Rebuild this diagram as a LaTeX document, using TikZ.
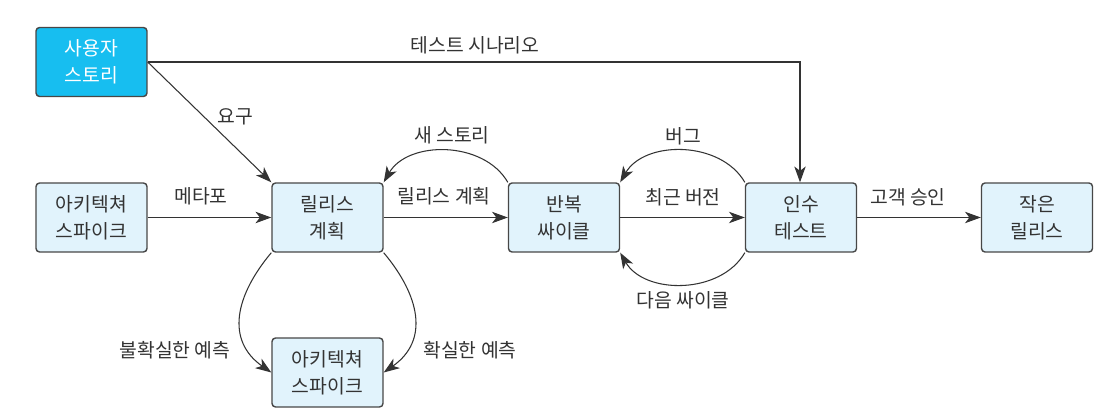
\documentclass[tikz,border=0pt]{standalone}
\usepackage{fontspec}
\setmainfont{Noto Sans CJK KR}
\usetikzlibrary{arrows.meta}
\definecolor{boxfill}{HTML}{E1F3FC}
\definecolor{storyfill}{HTML}{17BEF0}
\definecolor{linegray}{HTML}{333333}
\begin{document}
\begin{tikzpicture}[x=0.02cm, y=-0.02cm,
    font=\fontsize{11}{15.5}\selectfont,
    box/.style={draw=linegray!90, line width=0.8pt, fill=boxfill, rounded corners=2pt, minimum width=2.22cm, minimum height=1.38cm, align=center, inner sep=0pt, text=black!80},
    flow/.style={draw=linegray, line width=0.6pt, -{Stealth[length=9pt,width=6.5pt,inset=2.5pt]}},
    lbl/.style={inner sep=1pt, text=black!80}]
    \useasboundingbox (0,0) rectangle (1118,418);
    % boxes
    \node[box, fill=storyfill, text=white] (story) at (91.5,62) {사용자\\스토리};
    \node[box] (spike) at (91.5,217.5) {아키텍쳐\\스파이크};
    \node[box] (plan) at (327.5,217.5) {릴리스\\계획};
    \node[box] (spike2) at (327.5,372.5) {아키텍쳐\\스파이크};
    \node[box] (cycle) at (564,217.5) {반복\\싸이클};
    \node[box] (accept) at (801,217.5) {인수\\테스트};
    \node[box] (release) at (1037,217.5) {작은\\릴리스};
    % connectors
    \coordinate (corner) at (800,62);
    \draw[flow] (story.east) -- (corner) -- (accept.north -| corner);
    \draw[flow] (story.east) -- (plan.north west);
    \draw[flow] (spike) -- (plan);
    \draw[flow] (plan) -- (cycle);
    \draw[flow] (cycle) -- (accept);
    \draw[flow] (accept) -- (release);
    \draw[flow] (cycle.north west) to[out=120, in=60] (plan.north east);
    \draw[flow] (accept.north west) to[out=120, in=60] (cycle.north east);
    \draw[flow] (accept.south west) to[out=240, in=300] (cycle.south east);
    \draw[flow] (plan.south west) to[out=230, in=145, looseness=1.2] (spike2.west);
    \draw[flow] (plan.south east) to[out=310, in=35, looseness=1.2] (spike2.east);
    % labels
    \node[lbl] (l-scen) at (475,45) {테스트 시나리오};
    \node[lbl] (l-req) at (235,117) {요구};
    \node[lbl] (l-new) at (452,135) {새 스토리};
    \node[lbl] (l-bug) at (683,136) {버그};
    \node[lbl] (l-meta) at (201,196) {메타포};
    \node[lbl] (l-plan) at (444,196) {릴리스 계획};
    \node[lbl] (l-ver) at (683,197) {최근 버전};
    \node[lbl] (l-ok) at (908,197) {고객 승인};
    \node[lbl] (l-next) at (683,300) {다음 싸이클};
    \node[lbl] (l-unsure) at (175,350) {불확실한 예측};
    \node[lbl] (l-sure) at (470,350) {확실한 예측};
\end{tikzpicture}
\end{document}
